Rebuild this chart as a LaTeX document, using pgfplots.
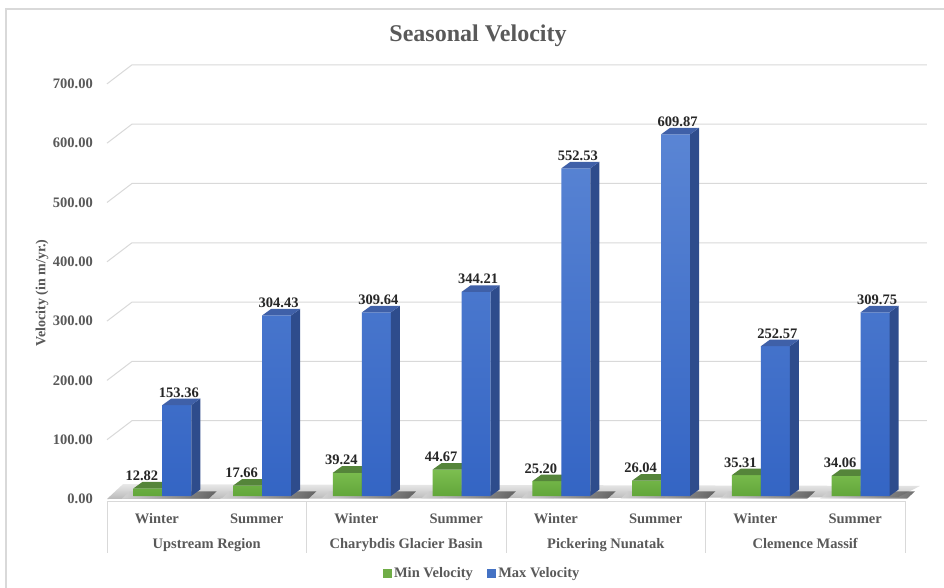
\documentclass[border=0pt]{standalone}
\usepackage{pgfplots}
\usepackage{pgfplotstable}
\pgfplotsset{compat=1.18}
\usepackage{fontspec}
\setmainfont{Liberation Serif}
\definecolor{txt}{HTML}{595959}
\definecolor{lbl}{HTML}{262626}
\definecolor{gridc}{HTML}{D9D9D9}
\definecolor{gfrontT}{HTML}{7CBE50}
\definecolor{gfrontB}{HTML}{62A63A}
\definecolor{gtop}{HTML}{55853A}
\definecolor{gside}{HTML}{4A7A2E}
\definecolor{bfrontT}{HTML}{5A85D4}
\definecolor{bfrontB}{HTML}{3465C4}
\definecolor{btop}{HTML}{3F60A8}
\definecolor{bside}{HTML}{2E4C8C}
\definecolor{gleg}{HTML}{70AD47}
\definecolor{bleg}{HTML}{4472C4}

\pgfplotstableread{
i min max
0 12.82 153.36
1 17.66 304.43
2 39.24 309.64
3 44.67 344.21
4 25.20 552.53
5 26.04 609.87
6 35.31 252.57
7 34.06 309.75
}\datatable

\tikzset{catlbl/.style={anchor=base, font=\fontsize{14.5}{16}\selectfont\bfseries, text=txt}}

\begin{document}
\begin{tikzpicture}[x=1pt,y=1pt]
\useasboundingbox (0,0) rectangle (944,587);
\fill[white] (0,0) rectangle (944,587);
\draw[gridc, line width=1.2pt] (6,-5) -- (6,578) -- (950,578);
\node[font=\fontsize{24}{28}\selectfont\bfseries, text=txt, anchor=base] at (478,545) {Seasonal Velocity};
\node[font=\fontsize{14}{16}\selectfont\bfseries, text=txt, rotate=90] at (42,294) {Velocity (in m/yr.)};
\begin{axis}[
  at={(107pt,88pt)}, anchor=south west, scale only axis,
  width=798pt, height=435.9pt,
  xmin=0, xmax=8, ymin=-5, ymax=730,
  axis line style={draw=none}, clip=false,
  xtick=\empty,
  ytick={-5,95,195,295,395,495,595,695},
  yticklabels={0.00,100.00,200.00,300.00,400.00,500.00,600.00,700.00},
  major tick length=0pt,
  yticklabel style={anchor=east, inner sep=0pt, xshift=-14pt, font=\fontsize{14.5}{16}\selectfont\bfseries, text=txt},
  legend style={at={(0.47,-0.17)}, anchor=center, draw=none, fill=none, legend columns=2,
    font=\fontsize{14.5}{16}\selectfont\bfseries, text=txt,
    /tikz/every odd column/.append style={column sep=1pt},
    /tikz/every even column/.append style={column sep=12pt}},
]
\addlegendimage{legend image code/.code={\fill[gleg] (0pt,-4pt) rectangle (8pt,4pt);}}
\addlegendentry{Min Velocity}
\addlegendimage{legend image code/.code={\fill[bleg] (0pt,-4pt) rectangle (8pt,4pt);}}
\addlegendentry{Max Velocity}

% back wall gridlines
\pgfplotsforeachungrouped \v in {95,195,295,395,495,595,695}{%
  \pgfmathsetmacro\vb{\v+32}%
  \edef\tmp{\noexpand\addplot[gridc, line width=1pt, forget plot] coordinates {(0,\v) (0.25,\vb) (8.22,\vb)};}\tmp
}
% floor
\addplot[draw=none, top color=gray!18, bottom color=gray!55, forget plot] coordinates {(0,-5) (7.93,-2) (8.15,17) (0.16,20)};
% floor shadows
\pgfplotsforeachungrouped \k in {0,1,2,3,4,5,6,7}{%
  \pgfmathsetmacro\sa{\k+0.15}%
  \pgfmathsetmacro\sb{\k+1.02}%
  \pgfmathsetmacro\sc{\k+1.10}%
  \pgfmathsetmacro\sd{\k+0.23}%
  \edef\tmp{\noexpand\addplot[draw=none, left color=gray!30, right color=black!75, fill opacity=0.75, forget plot] coordinates {(\sa,-4.5) (\sb,-4.5) (\sc,8) (\sd,8)};}\tmp
}

% green front faces
\addplot[ybar, bar shift=0pt, bar width=0.29, draw=none, top color=gfrontT, bottom color=gfrontB, forget plot]
  table[x expr=\thisrow{i}+0.41, y=min] {\datatable};
% green top and side faces
\pgfplotsforeachungrouped \k in {0,1,2,3,4,5,6,7}{%
  \pgfplotstablegetelem{\k}{min}\of\datatable \let\vg\pgfplotsretval
  \pgfmathsetmacro\gl{\k+0.265}%
  \pgfmathsetmacro\gr{\k+0.555}%
  \pgfmathsetmacro\gld{\gl+0.09}%
  \pgfmathsetmacro\grd{\gr+0.09}%
  \pgfmathsetmacro\vgd{\vg+11}%
  \edef\tmp{\noexpand\addplot[fill=gside, draw=none, forget plot] coordinates {(\gr,0) (\grd,11) (\grd,\vgd) (\gr,\vg)};}\tmp
  \edef\tmp{\noexpand\addplot[fill=gtop, draw=none, forget plot] coordinates {(\gl,\vg) (\gr,\vg) (\grd,\vgd) (\gld,\vgd)};}\tmp
}
% blue front faces
\addplot[ybar, bar shift=0pt, bar width=0.29, draw=none, top color=bfrontT, bottom color=bfrontB, forget plot]
  table[x expr=\thisrow{i}+0.70, y=max] {\datatable};
% blue top and side faces
\pgfplotsforeachungrouped \k in {0,1,2,3,4,5,6,7}{%
  \pgfplotstablegetelem{\k}{max}\of\datatable \let\vbb\pgfplotsretval
  \pgfmathsetmacro\bl{\k+0.555}%
  \pgfmathsetmacro\br{\k+0.845}%
  \pgfmathsetmacro\bld{\bl+0.09}%
  \pgfmathsetmacro\brd{\br+0.09}%
  \pgfmathsetmacro\vbd{\vbb+11}%
  \edef\tmp{\noexpand\addplot[fill=bside, draw=none, forget plot] coordinates {(\br,0) (\brd,11) (\brd,\vbd) (\br,\vbb)};}\tmp
  \edef\tmp{\noexpand\addplot[fill=btop, draw=none, forget plot] coordinates {(\bl,\vbb) (\br,\vbb) (\brd,\vbd) (\bld,\vbd)};}\tmp
}
% value labels
\addplot[draw=none, forget plot, point meta=\thisrow{min},
  nodes near coords={\pgfmathprintnumber[fixed,fixed zerofill,precision=2,assume math mode=true]{\pgfplotspointmeta}},
  every node near coord/.style={anchor=base, yshift=1.5pt, inner sep=0pt, font=\fontsize{14.5}{16}\selectfont\bfseries, text=lbl}]
  table[x expr=\thisrow{i}+0.35, y expr=\thisrow{min}+11] {\datatable};
\addplot[draw=none, forget plot, point meta=\thisrow{max},
  nodes near coords={\pgfmathprintnumber[fixed,fixed zerofill,precision=2,assume math mode=true]{\pgfplotspointmeta}},
  every node near coord/.style={anchor=base, yshift=1.5pt, inner sep=0pt, font=\fontsize{14.5}{16}\selectfont\bfseries, text=lbl}]
  table[x expr=\thisrow{i}+0.72, y expr=\thisrow{max}+11] {\datatable};

% category table
\draw[gridc, line width=1pt] (axis cs:0,-8.4) -- (axis cs:8,-8.4);
\draw[gridc, line width=1pt] (axis cs:0,-8.4) -- (axis cs:0,-96);
\draw[gridc, line width=1pt] (axis cs:2,-8.4) -- (axis cs:2,-96);
\draw[gridc, line width=1pt] (axis cs:4,-8.4) -- (axis cs:4,-96);
\draw[gridc, line width=1pt] (axis cs:6,-8.4) -- (axis cs:6,-96);
\draw[gridc, line width=1pt] (axis cs:8,-8.4) -- (axis cs:8,-96);
\node[catlbl] at (axis cs:0.5,-45.5) {Winter};
\node[catlbl] at (axis cs:1.5,-45.5) {Summer};
\node[catlbl] at (axis cs:2.5,-45.5) {Winter};
\node[catlbl] at (axis cs:3.5,-45.5) {Summer};
\node[catlbl] at (axis cs:4.5,-45.5) {Winter};
\node[catlbl] at (axis cs:5.5,-45.5) {Summer};
\node[catlbl] at (axis cs:6.5,-45.5) {Winter};
\node[catlbl] at (axis cs:7.5,-45.5) {Summer};
\node[catlbl] at (axis cs:1,-87.7) {Upstream Region};
\node[catlbl] at (axis cs:3,-87.7) {Charybdis Glacier Basin};
\node[catlbl] at (axis cs:5,-87.7) {Pickering Nunatak};
\node[catlbl] at (axis cs:7,-87.7) {Clemence Massif};
\end{axis}
\end{tikzpicture}
\end{document}
